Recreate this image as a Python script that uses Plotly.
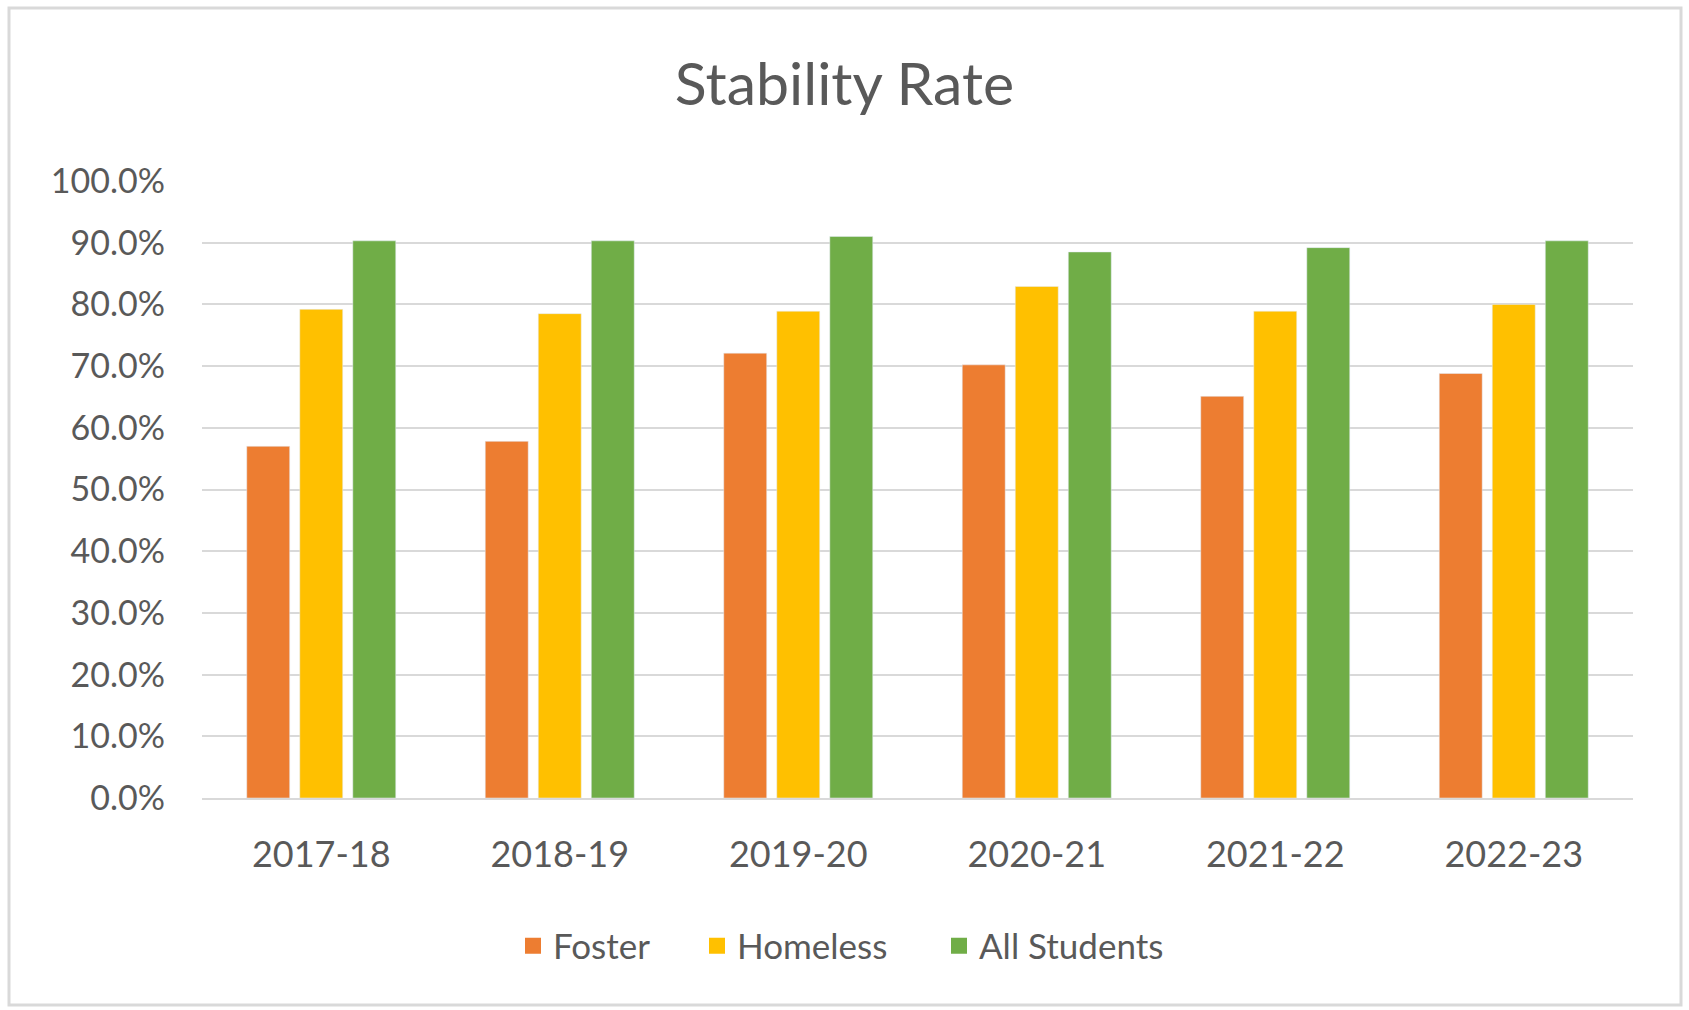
import plotly.graph_objects as go

years = ["2017-18", "2018-19", "2019-20", "2020-21", "2021-22", "2022-23"]
foster = [0.570, 0.578, 0.721, 0.702, 0.651, 0.688]
homeless = [0.792, 0.785, 0.789, 0.829, 0.789, 0.800]
all_students = [0.903, 0.903, 0.910, 0.885, 0.892, 0.903]

W, H = 1689, 1010
L, R, T, B = 202, 56, 181, 212
pw, ph = W - L - R, H - T - B

font = "Lato, 'Open Sans', sans-serif"
grey = "#595959"
series = [("Foster", foster, "#ED7D31"),
          ("Homeless", homeless, "#FFC000"),
          ("All Students", all_students, "#70AD47")]
legend_left = [513, 697, 939]  # pixel x of each legend entry

fig = go.Figure()
for name, vals, col in series:
    fig.add_trace(go.Bar(x=years, y=vals, name=name, marker_color=col,
                         showlegend=False))

# one legend per entry (bigger square swatches, Excel-like spacing)
legend_ids = ["legend", "legend2", "legend3"]
for (name, vals, col), lg in zip(series, legend_ids):
    fig.add_trace(go.Scatter(x=[None], y=[None], mode="markers", name=name,
                             legend=lg,
                             marker=dict(symbol="square", size=16, color=col)))

legend_style = dict(orientation="h", xanchor="left", y=-0.24, yanchor="middle",
                    font=dict(size=35, color=grey), itemwidth=30,
                    bgcolor="rgba(0,0,0,0)")

fig.update_layout(
    width=W, height=H,
    margin=dict(l=L, r=R, t=T, b=B, autoexpand=False),
    paper_bgcolor="white", plot_bgcolor="white",
    barmode="group", bargap=0.333, bargroupgap=0.19,
    font=dict(family=font, color=grey, size=34),
    title=dict(text="Stability Rate", x=0.5, xanchor="center",
               y=1 - 84 / H, yanchor="middle",
               font=dict(size=59, color=grey, family=font)),
    showlegend=True,
)
for lg, px in zip(legend_ids, legend_left):
    fig.update_layout({lg: dict(x=(px - L) / pw, **legend_style)})

fig.update_yaxes(range=[0, 1], dtick=0.1, tickformat=".1%",
                 showgrid=True, gridcolor="#D9D9D9", gridwidth=2,
                 zeroline=False, showline=False,
                 ticklabelstandoff=36, tickfont=dict(size=34, color=grey))
fig.update_xaxes(showline=True, linecolor="#D9D9D9", linewidth=2,
                 ticklabelstandoff=24, tickfont=dict(size=36, color=grey))

# outer chart border
fig.add_shape(type="rect", xref="paper", yref="paper",
              x0=(9 - L) / pw, x1=(1681 - L) / pw,
              y0=((H - B) - 1005) / ph, y1=((H - B) - 8) / ph,
              line=dict(color="#D9D9D9", width=3), fillcolor="rgba(0,0,0,0)",
              layer="below")

fig.write_html("out.html", config={"displayModeBar": False},
               post_script="document.body.style.margin='0';")
